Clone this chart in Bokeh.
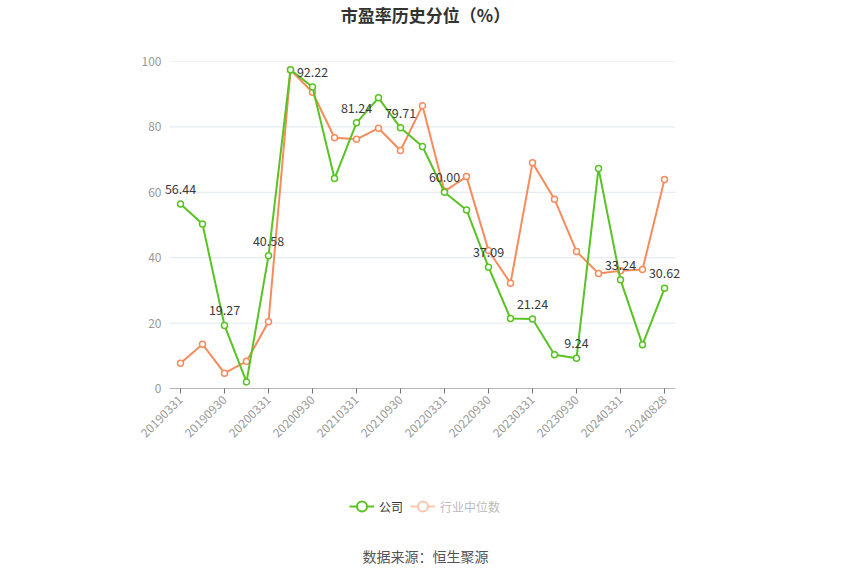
import math
from bokeh.plotting import figure
from bokeh.layouts import column
from bokeh.models import (ColumnDataSource, FixedTicker, Legend, LegendItem, Label)
from bokeh.embed import file_html
from bokeh.resources import INLINE
from bokeh.core.properties import value

dates = ["20190331", "20190630", "20190930", "20191231", "20200331", "20200630",
         "20200930", "20201231", "20210331", "20210630", "20210930", "20211231",
         "20220331", "20220630", "20220930", "20221231", "20230331", "20230630",
         "20230930", "20231231", "20240331", "20240630", "20240828"]
company = [56.44, 50.3, 19.27, 2.0, 40.58, 97.5, 92.22, 64.2, 81.24, 88.9, 79.71, 74.0,
           60.00, 54.6, 37.09, 21.4, 21.24, 10.3, 9.24, 67.3, 33.24, 13.4, 30.62]
industry = [7.7, 13.5, 4.7, 8.3, 20.4, 97.4, 90.6, 76.7, 76.2, 79.6, 72.8, 86.5,
            60.3, 64.8, 42.2, 32.2, 69.0, 57.9, 41.9, 35.2, 36.0, 36.4, 63.9]
labeled = [i % 2 == 0 for i in range(len(dates))]
y_ticks = [0, 20, 40, 60, 80, 100]

GREEN = "#58c322"
ORANGE = "#f88b5c"
FONT = "Noto Sans CJK SC"

n = len(dates)
idx = list(range(n))
src = ColumnDataSource(dict(x=idx, company=company, industry=industry))
lab_src = ColumnDataSource(dict(
    x=[i for i in idx if labeled[i]],
    y=[company[i] for i in idx if labeled[i]],
    t=[f"{company[i]:.2f}" for i in idx if labeled[i]],
))

# frame geometry (column layout aligns all frames horizontally)
left_px, right_px = 161, 700
band = 22.0
axis_left_px = 169
x0 = -0.5 - (axis_left_px - left_px) / band
x1 = x0 + (right_px - left_px) / band

# ---------- title figure ----------
pt = figure(width=850, height=30, output_backend="svg", toolbar_location=None,
            x_range=(left_px, right_px), y_range=(0, 1), min_border=0)
pt.axis.visible = False
pt.grid.visible = False
pt.outline_line_color = None
pt.add_layout(Label(x=425, y=0.53, text="市盈率历史分位（%）", text_align="center",
                    text_baseline="middle", text_font=FONT, text_font_size="17px",
                    text_font_style="bold", text_color="#333333"))

# ---------- main figure ----------
p = figure(width=850, height=450, output_backend="svg", toolbar_location=None,
           x_range=(x0, x1), y_range=(0, 100),
           min_border_left=left_px, min_border_right=850 - right_px,
           min_border_top=31, min_border_bottom=92)
p.outline_line_color = None
p.xgrid.grid_line_color = None
p.ygrid.grid_line_color = None

# grid lines and axis base line limited to the category span
gx0 = [-0.5] * len(y_ticks)
gx1 = [n - 0.5] * len(y_ticks)
p.segment(x0=gx0[1:], y0=y_ticks[1:], x1=gx1[1:], y1=y_ticks[1:],
          line_color="#e0e6f1", line_width=1)
p.segment(x0=[-0.5], y0=[0], x1=[n - 0.5], y1=[0], line_color="#6e7079", line_width=1)

p.yaxis.ticker = FixedTicker(ticks=y_ticks)
p.yaxis.axis_line_color = None
p.yaxis.major_tick_line_color = None
p.yaxis.major_tick_in = 0
p.yaxis.major_tick_out = 0
p.yaxis.minor_tick_line_color = None
p.yaxis.minor_tick_in = 0
p.yaxis.minor_tick_out = 0
p.yaxis.major_label_text_color = "#9a9a9a"
p.yaxis.major_label_text_font = FONT
p.yaxis.major_label_text_font_size = "12px"
p.yaxis.major_label_standoff = 0

p.xaxis.ticker = FixedTicker(ticks=[i for i in idx if labeled[i]])
p.xaxis.major_label_overrides = {i: dates[i] for i in idx if labeled[i]}
p.xaxis.major_label_orientation = math.pi / 4
p.xaxis.axis_line_color = None
p.xaxis.major_tick_line_color = "#6e7079"
p.xaxis.major_tick_in = 0
p.xaxis.major_tick_out = 5
p.xaxis.minor_tick_line_color = None
p.xaxis.major_label_text_color = "#9a9a9a"
p.xaxis.major_label_text_font = FONT
p.xaxis.major_label_text_font_size = "12px"
p.xaxis.major_label_standoff = 4

p.line("x", "industry", source=src, line_color=ORANGE, line_width=2)
p.scatter("x", "industry", source=src, size=6, marker="circle",
          line_color=ORANGE, fill_color="white", line_width=1.5)
p.line("x", "company", source=src, line_color=GREEN, line_width=2)
p.scatter("x", "company", source=src, size=6, marker="circle",
          line_color=GREEN, fill_color="white", line_width=1.5)

p.text("x", "y", text="t", source=lab_src, text_align="center", text_baseline="bottom",
       y_offset=-10, text_font=value(FONT), text_font_size="12.5px", text_color="#3a3a3a")

# ---------- bottom figure: legend + source ----------
pb = figure(width=850, height=95, output_backend="svg", toolbar_location=None,
            x_range=(left_px, right_px), y_range=(0, 95), min_border=0)
pb.axis.visible = False
pb.grid.visible = False
pb.outline_line_color = None

nan_src = ColumnDataSource(dict(x=[float("nan")], y=[float("nan")]))
lg_l = pb.line("x", "y", source=nan_src, line_color=GREEN, line_width=2)
lg_s = pb.scatter("x", "y", source=nan_src, size=10, marker="circle",
                  line_color=GREEN, fill_color="white", line_width=2)
lo_l = pb.line("x", "y", source=nan_src, line_color="#fcc6ad", line_width=2)
lo_s = pb.scatter("x", "y", source=nan_src, size=10, marker="circle",
                  line_color="#fcc6ad", fill_color="white", line_width=2)

common = dict(orientation="horizontal", label_text_font=FONT, label_text_font_size="12px",
              background_fill_alpha=0, border_line_color=None, glyph_width=25,
              glyph_height=28, label_height=28, label_standoff=5, padding=0, margin=0)
leg1 = Legend(items=[LegendItem(label="公司", renderers=[lg_l, lg_s])],
              location=(349 - left_px, 55), label_text_color="#333333", **common)
leg2 = Legend(items=[LegendItem(label="行业中位数", renderers=[lo_l, lo_s])],
              location=(410 - left_px, 55), label_text_color="#bbbbbb", **common)
pb.add_layout(leg1, "center")
pb.add_layout(leg2, "center")

pb.add_layout(Label(x=425, y=20, text="数据来源：恒生聚源", text_align="center",
                    text_baseline="middle", text_font=FONT, text_font_size="14px",
                    text_color="#555555"))

layout = column(pt, p, pb, spacing=0)
open("out.html", "w").write(file_html(layout, INLINE))
